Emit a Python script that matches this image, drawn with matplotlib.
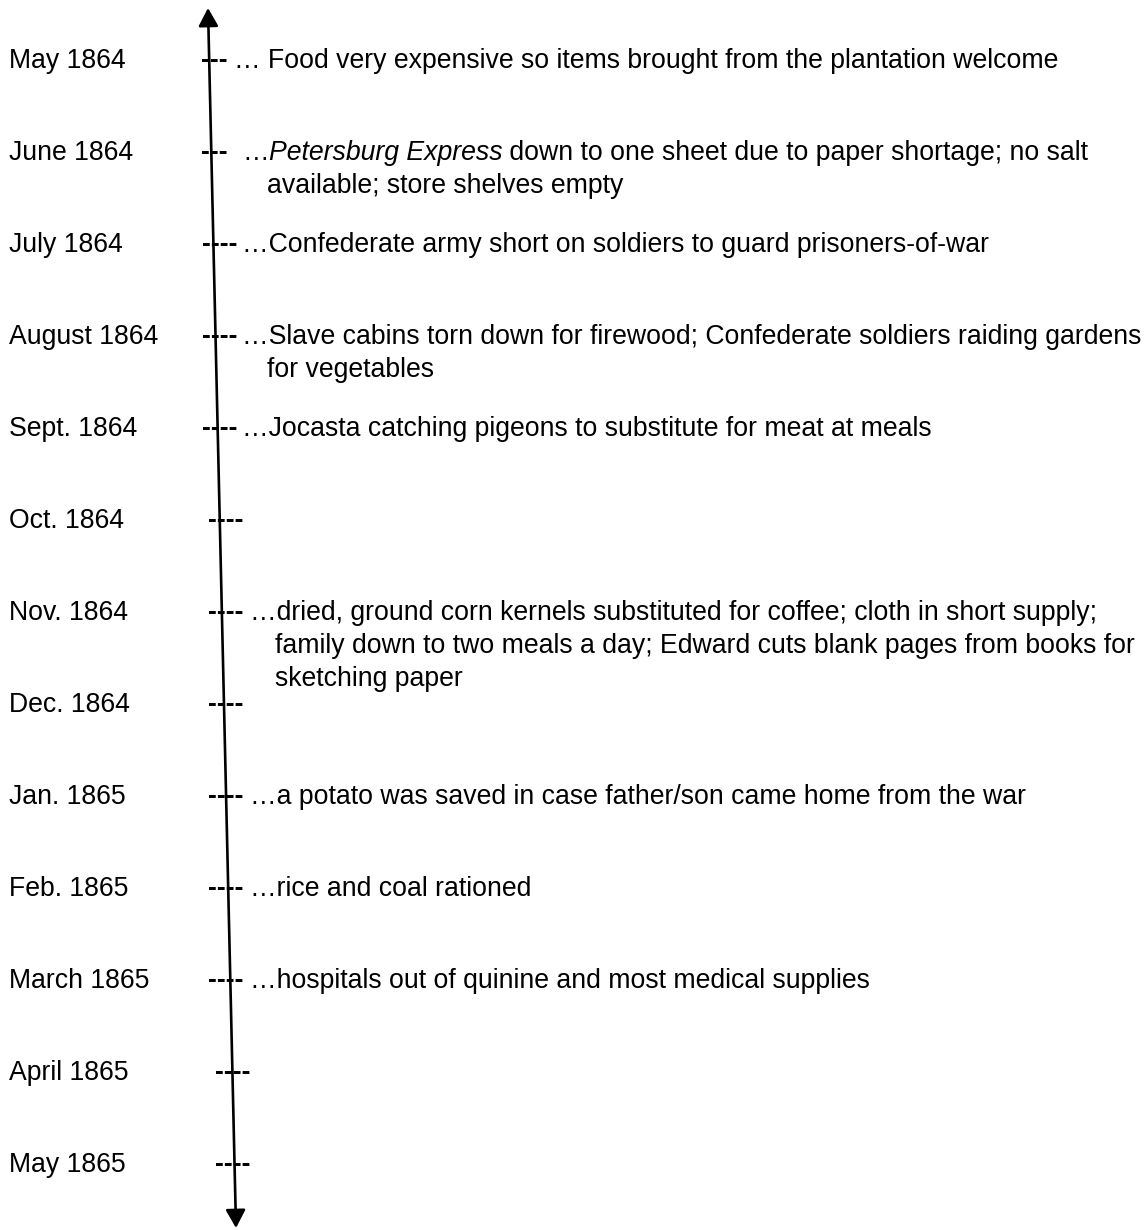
import matplotlib
matplotlib.use("Agg")
import matplotlib.pyplot as plt

# ---- data ----
dates = ["May 1864", "June 1864", "July 1864", "August 1864", "Sept. 1864",
         "Oct. 1864", "Nov. 1864", "Dec. 1864", "Jan. 1865", "Feb. 1865",
         "March 1865", "April 1865", "May 1865"]
dashes = ["---", "---", "----", "----", "----", "----", "----", "----",
          "----", "----", "----", "----", "----"]
# italic parts marked with *...*, continuation lines separated by \n
events = [
    "\u2026 Food very expensive so items brought from the plantation welcome",
    "\u2026*Petersburg Express* down to one sheet due to paper shortage; no salt\navailable; store shelves empty",
    "\u2026Confederate army short on soldiers to guard prisoners-of-war",
    "\u2026Slave cabins torn down for firewood; Confederate soldiers raiding gardens\nfor vegetables",
    "\u2026Jocasta catching pigeons to substitute for meat at meals",
    "",
    "\u2026dried, ground corn kernels substituted for coffee; cloth in short supply;\nfamily down to two meals a day; Edward cuts blank pages from books for\nsketching paper",
    "",
    "\u2026a potato was saved in case father/son came home from the war",
    "\u2026rice and coal rationed",
    "\u2026hospitals out of quinine and most medical supplies",
    "",
    "",
]

# ---- layout (pixel coordinates) ----
W, H = 1148, 1230
row0, row_step = 60, 92
base_off = 8
line_step = 33
date_x = 9
dash_x = [201, 201, 202, 202, 202, 208, 208, 208, 208, 208, 208, 215, 215]
event_x = [234, 242, 242, 242, 242, 250, 250, 250, 250, 250, 250, 250, 250]
cont_x = [267, 267, 267, 267, 267, 275, 275, 275, 275, 275, 275, 275, 275]
FS = 19.2
FONT = "Liberation Sans"

fig = plt.figure(figsize=(W / 100, H / 100), dpi=100)
ax = fig.add_axes([0, 0, 1, 1])
ax.set_xlim(0, W)
ax.set_ylim(H, 0)
ax.axis("off")

# arrow line
ax.annotate("", xy=(208, 8), xytext=(236, 1228),
            arrowprops=dict(arrowstyle="<|-|>,head_length=0.55,head_width=0.3",
                            mutation_scale=20, lw=1.9, color="black",
                            shrinkA=0, shrinkB=0))


def draw_line(x, y, line):
    parts = line.split("*")
    prev = None
    for k, seg in enumerate(parts):
        if seg == "":
            continue
        style = "italic" if k % 2 == 1 else "normal"
        if prev is None:
            prev = ax.text(x, y, seg, fontsize=FS, family=FONT, style=style,
                           va="baseline", ha="left", color="black")
        else:
            prev = ax.annotate(seg, xy=(1, 0), xycoords=prev, fontsize=FS,
                               family=FONT, style=style, va="bottom",
                               ha="left", color="black")


for i, (d, dsh, ev) in enumerate(zip(dates, dashes, events)):
    y = row0 + row_step * i + base_off
    ax.text(date_x, y, d, fontsize=FS, family=FONT, va="baseline", ha="left")
    ax.text(dash_x[i], y, dsh, fontsize=FS, family=FONT, va="baseline",
            ha="left", fontweight="bold")
    if ev:
        for j, line in enumerate(ev.split("\n")):
            lx = event_x[i] if j == 0 else cont_x[i]
            draw_line(lx, y + j * line_step, line)

fig.savefig("out.png", dpi=100, facecolor="white")
